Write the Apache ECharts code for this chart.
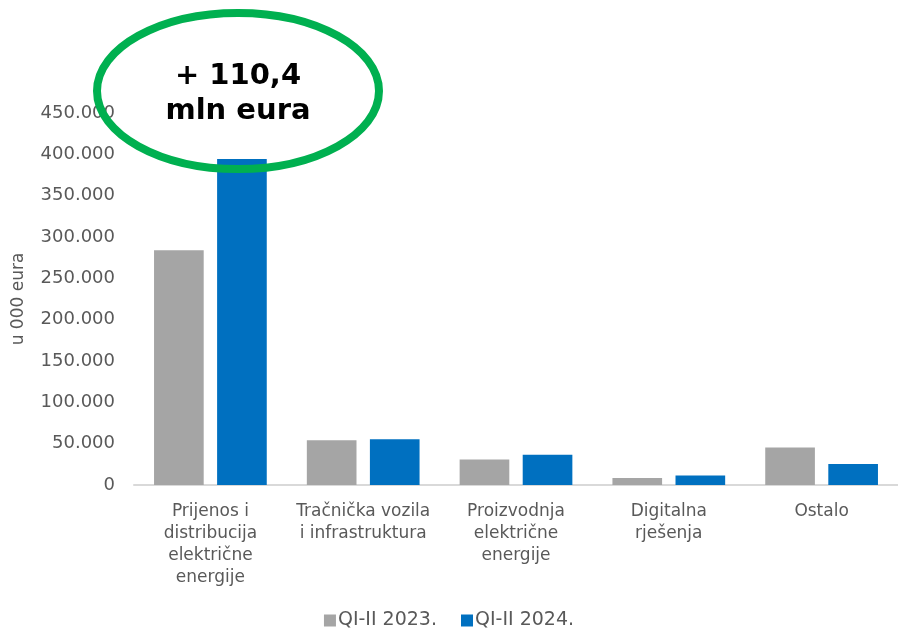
<!DOCTYPE html>
<html>
<head>
<meta charset="utf-8">
<script src="https://cdn.jsdelivr.net/npm/echarts@6/dist/echarts.min.js"></script>
<style>
  html, body { margin: 0; padding: 0; background: #fff; }
  #container { width: 898px; height: 635px; }
</style>
</head>
<body>
<div id="container"></div>
<script>
// values in thousand eur
const categories = ['Prijenos i\ndistribucija\nelektrične\nenergije', 'Tračnička vozila\ni infrastruktura', 'Proizvodnja\nelektrične\nenergije', 'Digitalna\nrješenja', 'Ostalo'];
const seriesNames = ['QI-II 2023.', 'QI-II 2024.'];
const values2023 = [284000, 54200, 30900, 8600, 45400];
const values2024 = [394400, 55400, 36500, 11500, 25500];
const calloutText = '+ 110,4\nmln eura';

var dom = document.getElementById('container');
var myChart = echarts.init(dom);
var font = 'DejaVu Sans';

function fmt(v) {
    return String(v).replace(/\B(?=(\d{3})+(?!\d))/g, '.');
}

var option = {
    animation: false,
    textStyle: { fontFamily: font },
    grid: { left: 134, right: 0, top: 113, bottom: 150 },
    legend: {
        bottom: 0,
        left: 'center',
        itemWidth: 12,
        itemHeight: 12,
        itemGap: 24,
        icon: 'rect',
        textStyle: { fontSize: 19, color: '#595959', fontFamily: font, padding: [0, 0, 0, -3] },
        data: seriesNames
    },
    xAxis: {
        type: 'category',
        data: categories,
        axisLine: { lineStyle: { color: '#D9D9D9', width: 2 } },
        axisTick: { show: false },
        axisLabel: {
            color: '#595959',
            fontFamily: font,
            fontSize: 17,
            lineHeight: 22,
            margin: 16,
            interval: 0
        }
    },
    yAxis: {
        type: 'value',
        min: 0,
        max: 450000,
        interval: 50000,
        name: 'u 000 eura',
        nameLocation: 'middle',
        nameGap: 107,
        nameTextStyle: { color: '#595959', fontSize: 17, fontFamily: font },
        splitLine: { show: false },
        axisLine: { show: false },
        axisTick: { show: false },
        axisLabel: {
            color: '#595959',
            fontFamily: font,
            fontSize: 18,
            margin: 19,
            formatter: fmt
        }
    },
    series: [
        {
            name: seriesNames[0],
            type: 'bar',
            data: values2023,
            barWidth: '32.5%',
            barGap: '27%',
            itemStyle: { color: '#A5A5A5' }
        },
        {
            name: seriesNames[1],
            type: 'bar',
            data: values2024,
            barWidth: '32.5%',
            itemStyle: { color: '#0070C0' }
        }
    ],
    graphic: [
        {
            type: 'ellipse',
            shape: { cx: 238, cy: 91, rx: 141, ry: 78 },
            style: { fill: 'rgba(0,0,0,0)', stroke: '#00B050', lineWidth: 8 },
            z: 100
        },
        {
            type: 'text',
            x: 238,
            y: 94,
            style: {
                text: calloutText,
                align: 'center',
                verticalAlign: 'middle',
                fill: '#000',
                fontFamily: font,
                fontWeight: 'bold',
                fontSize: 29,
                lineHeight: 35
            },
            z: 101
        }
    ]
};

myChart.setOption(option);
window.addEventListener('resize', myChart.resize);
</script>
</body>
</html>
